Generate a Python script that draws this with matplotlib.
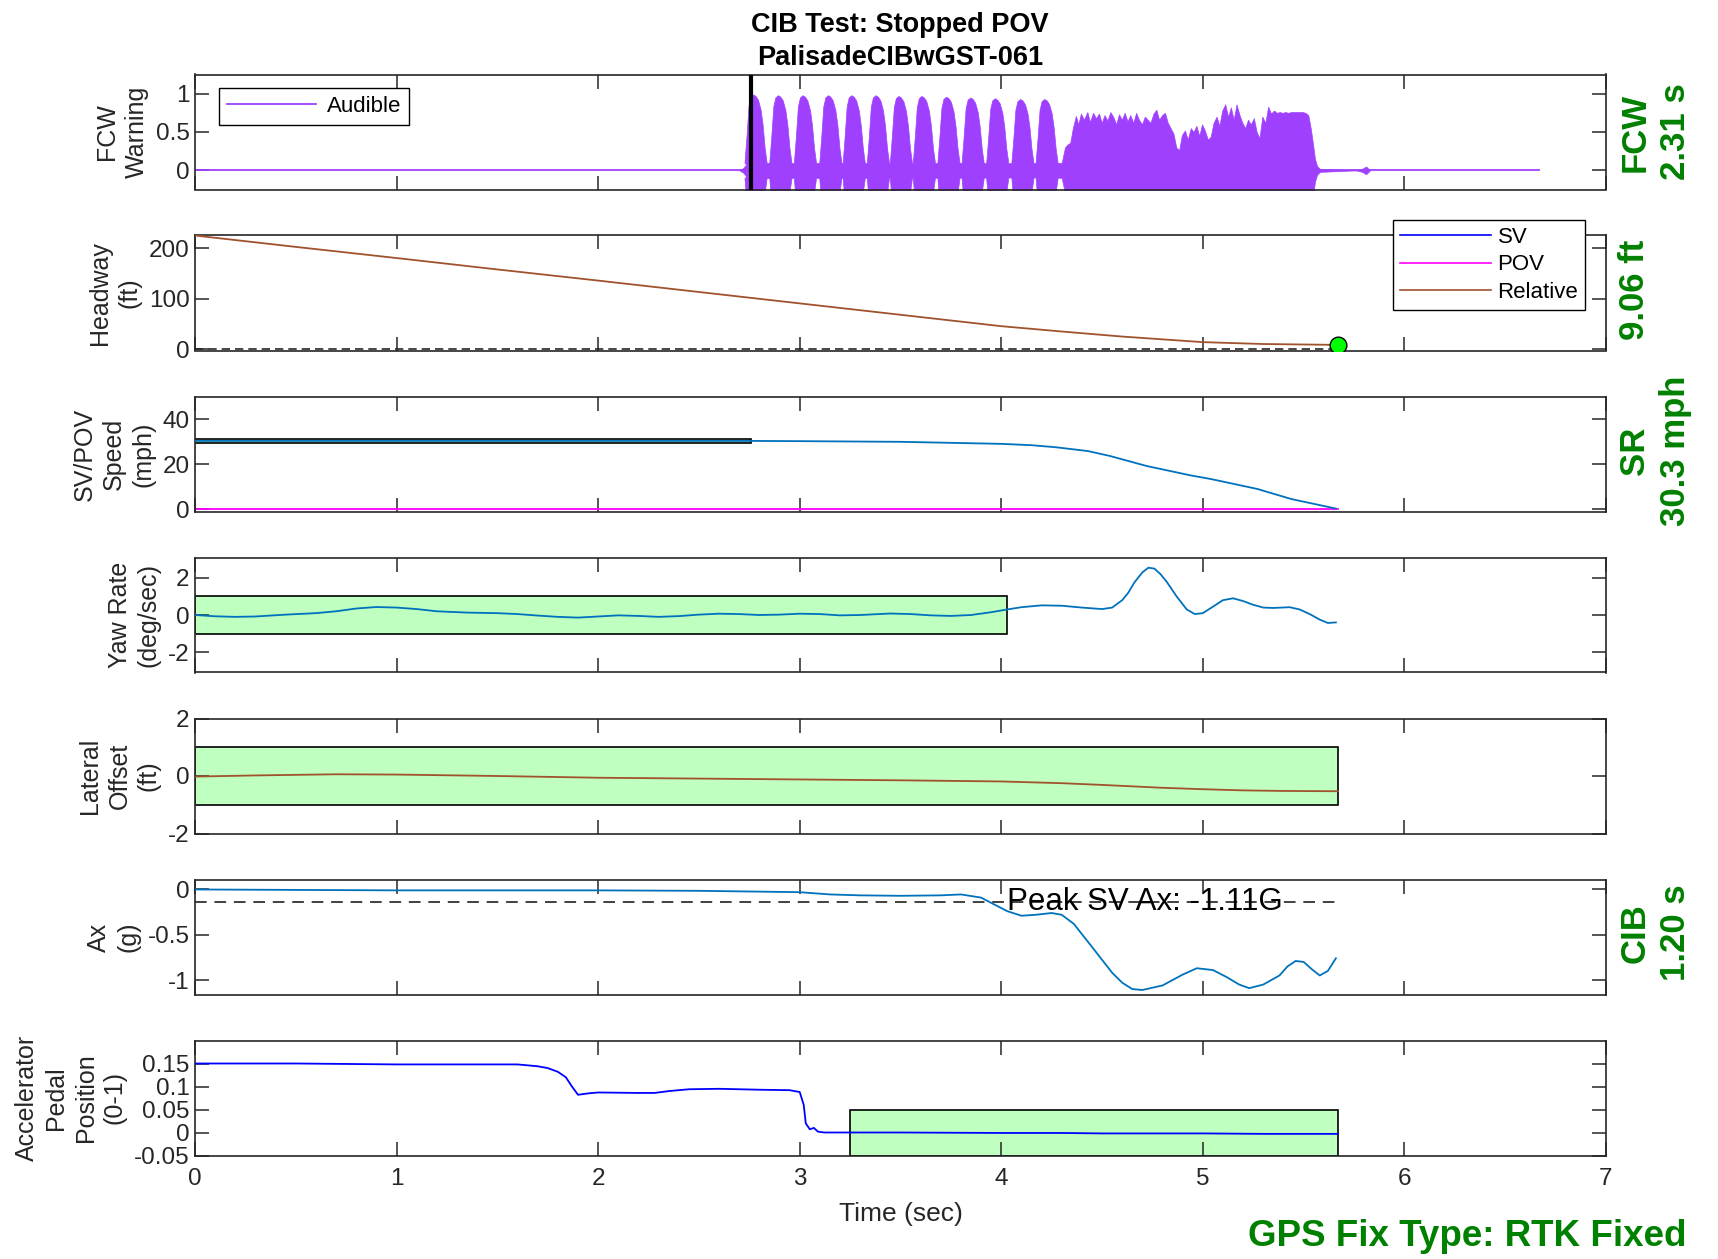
import numpy as np
import matplotlib
matplotlib.use("Agg")
from matplotlib import pyplot as plt
from matplotlib.patches import Rectangle
from matplotlib.lines import Line2D

plt.rcParams['font.family'] = ['Liberation Sans', 'DejaVu Sans']

# ---- FCW audible warning envelope ----
t_end = 5.67
fcw_onset = 2.76
pulse_centers = [2.781, 2.904, 3.026, 3.152, 3.268, 3.388, 3.502, 3.616, 3.738, 3.858, 3.980, 4.105, 4.225]
pulse_peaks = [0.99, 0.98, 0.98, 0.98, 0.98, 0.98, 0.97, 0.97, 0.96, 0.95, 0.94, 0.93, 0.93]
pulse_dt = [-0.055, -0.045, -0.035, -0.025, -0.012, 0.0, 0.012, 0.025, 0.035, 0.045, 0.055]
pulse_shape = [0.10, 0.45, 0.85, 0.97, 1.00, 0.98, 0.93, 0.80, 0.60, 0.30, 0.10]
pre_t = [2.70, 2.72, 2.735, 2.75]
pre_v = [0.0, 0.03, 0.08, 0.05]
dense_t = [4.300, 4.316, 4.330, 4.342, 4.355, 4.370, 4.382, 4.395, 4.410, 4.427, 4.440, 4.455,
           4.470, 4.485, 4.498, 4.512, 4.527, 4.541, 4.555, 4.570, 4.584, 4.598, 4.612, 4.626,
           4.640, 4.655, 4.669, 4.683, 4.698, 4.712, 4.726, 4.740, 4.755, 4.769, 4.783, 4.798,
           4.812, 4.826, 4.840, 4.854, 4.868, 4.882, 4.896, 4.911, 4.925, 4.940, 4.954, 4.968,
           4.982, 4.996, 5.010, 5.025, 5.039, 5.053, 5.068, 5.082, 5.096, 5.111, 5.125, 5.139,
           5.153, 5.167, 5.182, 5.196, 5.210, 5.224, 5.238, 5.253, 5.267, 5.281, 5.295, 5.310,
           5.324, 5.338, 5.353, 5.367, 5.381, 5.395, 5.410, 5.424, 5.438, 5.452, 5.467, 5.481,
           5.495, 5.509, 5.523, 5.535, 5.546, 5.556, 5.566, 5.580]
dense_v = [0.10, 0.30, 0.34, 0.36, 0.55, 0.71, 0.60, 0.74, 0.66, 0.76, 0.63, 0.75,
           0.68, 0.74, 0.62, 0.72, 0.65, 0.76, 0.70, 0.60, 0.73, 0.66, 0.75, 0.64,
           0.72, 0.62, 0.75, 0.66, 0.60, 0.70, 0.66, 0.62, 0.74, 0.79, 0.66, 0.72,
           0.75, 0.62, 0.55, 0.48, 0.30, 0.26, 0.46, 0.52, 0.40, 0.55, 0.50, 0.58,
           0.45, 0.60, 0.52, 0.40, 0.44, 0.62, 0.70, 0.58, 0.78, 0.86, 0.70, 0.82,
           0.66, 0.86, 0.72, 0.62, 0.55, 0.66, 0.60, 0.68, 0.50, 0.42, 0.70, 0.62,
           0.83, 0.74, 0.78, 0.75, 0.76, 0.75, 0.76, 0.75, 0.76, 0.76, 0.76, 0.76,
           0.76, 0.75, 0.72, 0.55, 0.35, 0.15, 0.06, 0.02]
blip_t = [5.76, 5.79, 5.81, 5.83]
blip_v = [0.0, 0.02, 0.05, 0.0]
fcw_trace_end = 6.67

# ---- headway ----
hw_t = [0, 0.5, 1, 1.5, 2, 2.5, 3, 3.5, 4, 4.3, 4.6, 5.0, 5.3, 5.67]
hw_v = [225, 202.5, 180.5, 158, 136, 113.5, 91, 68.5, 46, 35.5, 25.5, 14.5, 10.8, 9.06]

# ---- speeds ----
sv_t = [0, 2.76, 3.0, 3.5, 4.0, 4.15, 4.27, 4.43, 4.54, 4.72, 4.94, 5.04, 5.27, 5.44, 5.66]
sv_v = [30.3, 30.3, 30.2, 29.9, 29.0, 28.4, 27.5, 25.8, 23.6, 19.2, 15.0, 13.4, 9.0, 4.5, 0.3]
pov_t = [0, 5.67]
pov_v = [0, 0]
sr_speed = 30.3

# ---- yaw rate ----
yaw_t = [0.0, 0.1, 0.2, 0.3, 0.45, 0.6, 0.7, 0.8, 0.9, 1.0, 1.1, 1.2, 1.35, 1.5, 1.6, 1.7, 1.8,
         1.9, 2.0, 2.1, 2.2, 2.3, 2.4, 2.5, 2.6, 2.7, 2.8, 2.9, 3.0, 3.1, 3.2, 3.3, 3.45, 3.55,
         3.65, 3.75, 3.85, 3.95, 4.03, 4.1, 4.2, 4.3, 4.4, 4.5, 4.55, 4.6, 4.63, 4.66, 4.7, 4.73,
         4.76, 4.79, 4.82, 4.87, 4.92, 4.96, 5.0, 5.05, 5.1, 5.15, 5.2, 5.25, 5.3, 5.35, 5.43,
         5.48, 5.53, 5.58, 5.62, 5.66]
yaw_v = [0.0, -0.07, -0.1, -0.08, 0.02, 0.1, 0.2, 0.35, 0.43, 0.4, 0.32, 0.2, 0.13, 0.1, 0.05,
         -0.03, -0.1, -0.14, -0.08, -0.02, -0.05, -0.1, -0.06, 0.02, 0.07, 0.05, 0.0, 0.02,
         0.07, 0.05, -0.02, 0.0, 0.08, 0.05, -0.02, -0.05, 0.0, 0.15, 0.3, 0.42, 0.52, 0.5,
         0.4, 0.32, 0.4, 0.8, 1.2, 1.75, 2.3, 2.55, 2.5, 2.2, 1.8, 1.0, 0.3, 0.05, 0.1, 0.45,
         0.8, 0.9, 0.75, 0.55, 0.4, 0.38, 0.42, 0.3, 0.05, -0.25, -0.43, -0.4]
yaw_box_end = 4.03

# ---- lateral offset ----
lat_t = [0, 0.3, 0.7, 1.0, 1.5, 2.0, 2.5, 3.0, 3.5, 4.0, 4.3, 4.5, 4.8, 5.0, 5.2, 5.4, 5.67]
lat_v = [-0.02, 0.02, 0.06, 0.05, 0.0, -0.06, -0.09, -0.12, -0.15, -0.19, -0.25, -0.31,
         -0.41, -0.46, -0.5, -0.52, -0.53]

# ---- longitudinal acceleration ----
ax_t = [0, 1, 2, 2.5, 3.0, 3.15, 3.3, 3.5, 3.7, 3.8, 3.9, 3.96, 4.03, 4.1, 4.17, 4.25, 4.3,
        4.36, 4.42, 4.48, 4.55, 4.6, 4.65, 4.7, 4.8, 4.9, 4.97, 5.05, 5.12, 5.18, 5.23, 5.3,
        5.38, 5.42, 5.46, 5.5, 5.54, 5.58, 5.62, 5.66]
ax_v = [0.0, -0.01, -0.01, -0.015, -0.03, -0.055, -0.065, -0.07, -0.065, -0.055, -0.09,
        -0.16, -0.24, -0.29, -0.28, -0.26, -0.28, -0.38, -0.55, -0.72, -0.92, -1.03, -1.1,
        -1.11, -1.06, -0.94, -0.87, -0.89, -0.97, -1.05, -1.09, -1.05, -0.95, -0.85, -0.79,
        -0.8, -0.88, -0.95, -0.9, -0.76]
ax_threshold = -0.14
peak_ax = -1.11

# ---- accelerator pedal ----
ped_t = [0, 0.5, 1.0, 1.5, 1.6, 1.7, 1.75, 1.8, 1.84, 1.87, 1.9, 1.95, 2.0, 2.2, 2.28, 2.35,
         2.45, 2.6, 2.8, 2.95, 3.0, 3.02, 3.03, 3.05, 3.07, 3.09, 3.12, 3.3, 3.5, 4.0, 4.3,
         4.5, 5.0, 5.3, 5.67]
ped_v = [0.15, 0.15, 0.148, 0.148, 0.148, 0.144, 0.14, 0.132, 0.12, 0.1, 0.082, 0.085, 0.087,
         0.086, 0.086, 0.09, 0.094, 0.095, 0.093, 0.092, 0.088, 0.06, 0.02, 0.007, 0.01,
         0.002, 0.0, 0.0, 0.0, -0.001, -0.001, -0.002, -0.002, -0.003, -0.003]
ped_box_start = 3.25

GREEN_FILL = '#bfffbf'
DARK_GREEN = '#008000'
SV_BLUE = '#0072bd'
PURPLE = '#a040ff'
BROWN = '#a0522d'
AX_COLOR = '#262626'

W, H = 1718, 1259
fig = plt.figure(figsize=(W / 100, H / 100), dpi=100)

left = 195 / W
width = (1606 - 195) / W
ph = 115
axes = []
for i in range(7):
    top = 74.5 + 161 * i
    axes.append(fig.add_axes([left, 1 - (top + ph) / H, width, ph / H]))


def style(ax, ylim, yticks, ylabels, ylabel):
    ax.set_xlim(0, 7)
    ax.set_ylim(ylim)
    ax.set_xticks(range(8))
    ax.set_yticks(yticks)
    ax.set_yticklabels(ylabels)
    ax.tick_params(direction='in', top=True, right=True, length=10, width=1.1,
                   color=AX_COLOR, labelsize=17.5, labelcolor='#262626', pad=4)
    ax.tick_params(axis='x', pad=9)
    for s in ax.spines.values():
        s.set_color(AX_COLOR)
        s.set_linewidth(1.2)
    ax.set_ylabel(ylabel, fontsize=18, color='#262626', labelpad=5, linespacing=1.28)


def green_box(ax, x0, x1, y0, y1):
    ax.add_patch(Rectangle((x0, y0), x1 - x0, y1 - y0, facecolor=GREEN_FILL,
                           edgecolor='black', lw=1.2, zorder=1))


legend_kw = dict(fontsize=16, frameon=True, fancybox=False, edgecolor='black', framealpha=1,
                 borderaxespad=0, bbox_transform=fig.transFigure)

# 1: FCW warning
ax = axes[0]
env_t, env_v = list(pre_t), list(pre_v)
for c, p in zip(pulse_centers, pulse_peaks):
    env_t += [c + d for d in pulse_dt]
    env_v += [p * s for s in pulse_shape]
env_t += dense_t + blip_t
env_v += dense_v + blip_v
env_t = np.array(env_t)
env_v = np.array(env_v)
ax.plot([0, fcw_trace_end], [0, 0], color=PURPLE, lw=1.3, zorder=2)
ax.fill_between(env_t, -env_v, env_v, color=PURPLE, lw=0.5, zorder=2)
ax.axvline(fcw_onset, color='black', lw=3, zorder=3)
style(ax, (-0.25, 1.25), [0, 0.5, 1], ['0', '0.5', '1'], 'FCW\nWarning')
ax.legend(handles=[Line2D([], [], color=PURPLE, lw=1.3, label='Audible')],
          loc='upper left', bbox_to_anchor=(219 / W, 1 - 88 / H),
          handlelength=4.0, handletextpad=0.5, borderpad=0.35, **legend_kw)

# 2: headway
ax = axes[1]
ax.plot([0, t_end], [0, 0], color='#262626', lw=1.2, dashes=(5, 3), zorder=2)
ax.plot(hw_t, hw_v, color=BROWN, lw=1.3, zorder=3)
ax.plot([hw_t[-1]], [hw_v[-1]], 'o', ms=12, mfc='#00ff00', mec='black', mew=1.0, zorder=4)
style(ax, (-2, 225), [0, 100, 200], ['0', '100', '200'], 'Headway\n(ft)')
ax.legend(handles=[Line2D([], [], color='#0000ff', lw=1.2, label='SV'),
                   Line2D([], [], color='#ff00ff', lw=1.2, label='POV'),
                   Line2D([], [], color=BROWN, lw=1.2, label='Relative')],
          loc='upper right', bbox_to_anchor=(1585 / W, 1 - 220 / H),
          handlelength=4.1, handletextpad=0.3, borderpad=0.3, labelspacing=0.3, **legend_kw)

# 3: speeds
ax = axes[2]
green_box(ax, 0, fcw_onset, sr_speed - 1, sr_speed + 1)
ax.plot(pov_t, pov_v, color='#ff00ff', lw=1.3, zorder=2)
ax.plot(sv_t, sv_v, color=SV_BLUE, lw=1.3, zorder=3)
style(ax, (-1, 50), [0, 20, 40], ['0', '20', '40'], 'SV/POV\nSpeed\n(mph)')

# 4: yaw rate
ax = axes[3]
green_box(ax, 0, yaw_box_end, -1, 1)
ax.plot(yaw_t, yaw_v, color=SV_BLUE, lw=1.3, zorder=3)
style(ax, (-3.1, 3.1), [-2, 0, 2], ['-2', '0', '2'], 'Yaw Rate\n(deg/sec)')

# 5: lateral offset
ax = axes[4]
green_box(ax, 0, t_end, -1, 1)
ax.plot(lat_t, lat_v, color=BROWN, lw=1.3, zorder=3)
style(ax, (-2, 2), [-2, 0, 2], ['-2', '0', '2'], 'Lateral\nOffset\n(ft)')

# 6: Ax
ax = axes[5]
ax.plot([0, t_end], [ax_threshold, ax_threshold], color='#404040', lw=1.4, dashes=(6, 4),
        zorder=2)
ax.plot(ax_t, ax_v, color=SV_BLUE, lw=1.3, zorder=3)
ax.text(4.03, ax_threshold, 'Peak SV Ax: %.2fG' % peak_ax, fontsize=22.5, va='center',
        ha='left', color='black', zorder=4)
style(ax, (-1.16, 0.11), [-1, -0.5, 0], ['-1', '-0.5', '0'], 'Ax\n(g)')

# 7: accelerator pedal
ax = axes[6]
green_box(ax, ped_box_start, t_end, -0.05, 0.05)
ax.plot(ped_t, ped_v, color='#0000ff', lw=1.3, zorder=3)
style(ax, (-0.05, 0.2), [-0.05, 0, 0.05, 0.1, 0.15], ['-0.05', '0', '0.05', '0.1', '0.15'],
      'Accelerator\nPedal\nPosition\n(0-1)')
ax.set_xlabel('Time (sec)', fontsize=19, color='#262626', labelpad=9)

for a in axes[:-1]:
    a.set_xticklabels([])

# titles and side annotations
fig.text(900 / W, 1 - 25 / H, 'CIB Test: Stopped POV', ha='center', va='center',
         fontsize=19.5, weight='bold')
fig.text(900 / W, 1 - 58 / H, 'PalisadeCIBwGST-061', ha='center', va='center',
         fontsize=19.5, weight='bold')
side = dict(rotation=90, color=DARK_GREEN, weight='bold', fontsize=25, ha='center',
            va='center', linespacing=1.28)
fig.text(1655 / W, 1 - 132 / H, 'FCW\n2.31 s', **side)
fig.text(1634 / W, 1 - 290 / H, '%.2f ft' % hw_v[-1], **side)
fig.text(1655 / W, 1 - 451 / H, 'SR\n%.1f mph' % sr_speed, **side)
fig.text(1655 / W, 1 - 933 / H, 'CIB\n1.20 s', **side)
fig.text(1687 / W, 1 - 1237 / H, 'GPS Fix Type: RTK Fixed', ha='right', va='center',
         color=DARK_GREEN, weight='bold', fontsize=26.5)

fig.savefig('out.png', dpi=100)
